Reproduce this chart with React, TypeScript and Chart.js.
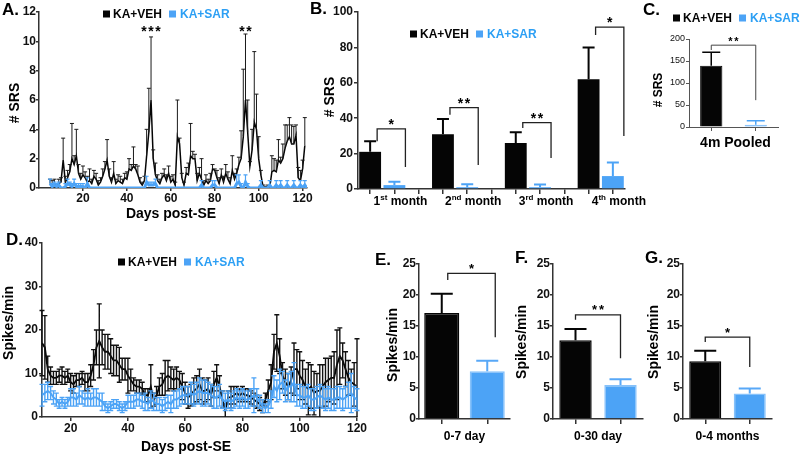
import React, { useEffect, useRef } from 'react';
import { Chart, registerables } from 'chart.js';

Chart.register(...registerables);

const FONT = "'Liberation Sans', Arial, Helvetica, sans-serif";
const BLACK = '#050505';
const BLUE = '#4ca3f6';
const BLUE_EDGE = '#86c1fa';
const BLUE_TEXT = '#2c9ff4';
const AXIS = '#333333';
const TICK_TEXT = '#111111';
const CW = 800;
const CH = 454;

const SERIES = ['KA+VEH', 'KA+SAR'];

// ---------------- Panel A: # SRS per day ----------------
const A_X_TICKS = [20, 40, 60, 80, 100, 120];
const A_Y_TICKS = [0, 2, 4, 6, 8, 10, 12];
const A_VEH_START = 5;
const A_VEH_MEAN = [
  0.3, 0.2, 0.3, 0.1, 0.3, 0.4, 1.9, 0.4, 0.7, 1.1,
  2.0, 1.6, 2.2, 1.0, 0.6, 0.9, 0.7, 0.4, 0.5, 0.3,
  0.8, 0.6, 0.2, 0.4, 0.8, 1.3, 1.9, 0.8, 0.4, 1.0,
  0.3, 0.5, 0.4, 0.3, 0.7, 0.6, 1.3, 1.2, 1.5, 1.3,
  0.9, 0.4, 0.2, 0.5, 2.2, 3.8, 6.0, 2.0, 0.9, 0.5,
  0.3, 0.7, 0.9, 0.5, 1.0, 0.4, 0.6, 0.2, 3.5, 3.0,
  0.7, 0.2, 1.0, 0.9, 2.2, 2.0, 2.0, 0.5, 1.0, 0.6,
  0.2, 0.5, 0.3, 0.5, 1.3, 1.2, 0.7, 0.3, 0.9, 0.4,
  1.0, 0.6, 0.3, 1.2, 0.6, 1.0, 1.6, 2.0, 3.5, 6.0,
  3.8, 1.5, 2.6, 4.5, 4.0, 2.0, 0.9, 0.1, 0.0, 0.1,
  0.0, 1.1, 1.2, 1.1, 1.9, 1.7, 2.0, 2.7, 3.2, 3.5,
  3.0, 3.0, 3.6, 0.7, 0.5, 1.3, 2.9,
];
const A_VEH_SEM = [
  0.3, 0.3, 0.3, 0.2, 0.3, 0.3, 1.5, 0.4, 0.5, 0.5,
  2.4, 0.6, 1.8, 0.6, 0.4, 0.6, 0.4, 0.4, 0.8, 0.3,
  0.4, 0.4, 0.3, 0.3, 0.5, 0.5, 1.4, 0.5, 0.3, 0.8,
  0.3, 0.4, 0.4, 0.3, 0.3, 0.5, 0.7, 0.4, 1.3, 0.3,
  0.6, 0.3, 0.2, 0.3, 1.8, 3.0, 4.3, 0.6, 0.8, 0.4,
  0.3, 0.3, 0.4, 0.4, 0.5, 0.4, 0.3, 0.2, 2.5, 0.4,
  0.3, 0.2, 0.4, 0.8, 2.2, 0.5, 0.3, 0.5, 0.4, 1.4,
  0.3, 0.4, 0.3, 0.5, 0.3, 0.1, 0.5, 0.4, 0.4, 0.4,
  0.6, 0.5, 0.4, 1.0, 0.4, 0.3, 0.5, 1.9, 4.6, 4.5,
  2.2, 0.3, 1.4, 4.8, 2.4, 1.5, 0.3, 0.1, 0.1, 0.1,
  0.1, 1.1, 0.8, 0.8, 1.4, 0.4, 1.0, 1.6, 1.1, 1.3,
  1.3, 1.2, 0.7, 0.7, 0.7, 0.6, 1.9,
];
const A_SAR_START = 5;
const A_SAR_MEAN = [
  0.3, 0.1, 0.2, 0.1, 0.2, 0, 0, 0.1, 0.3, 0.2,
  0.1, 0.3, 0.1, 0.1, 0.1, 0.1, 0, 0.3, 0, 0,
  0, 0, 0, 0, 0, 0, 0, 0, 0, 0,
  0, 0, 0, 0, 0, 0, 0, 0, 0, 0,
  0, 0, 0, 0, 0.4, 0.2, 0.2, 0.2, 0.3, 0,
  0, 0, 0, 0, 0, 0, 0, 0, 0, 0,
  0, 0, 0, 0, 0, 0, 0, 0, 0, 0.2,
  0, 0, 0, 0, 0.2, 0.2, 0, 0, 0, 0,
  0, 0, 0, 0, 0, 0.3, 0.4, 0.1, 0, 0.4,
  0.1, 0, 0, 0, 0, 0, 0.2, 0, 0, 0,
  0.2, 0, 0, 0.2, 0, 0.2, 0, 0, 0.2, 0,
  0, 0.2, 0, 0, 0.2, 0, 0.2, 0,
];
const A_SAR_SEM = [
  0.3, 0.2, 0.2, 0.2, 0.2, 0, 0, 0.2, 0.3, 0.2,
  0.2, 0.3, 0.2, 0.2, 0.2, 0.2, 0, 0.4, 0, 0,
  0, 0, 0, 0, 0, 0, 0, 0, 0, 0,
  0, 0, 0, 0, 0, 0, 0, 0, 0, 0,
  0, 0, 0, 0, 0.4, 0.2, 0.2, 0.2, 0.3, 0,
  0, 0, 0, 0, 0, 0, 0, 0, 0, 0,
  0, 0, 0, 0, 0, 0, 0, 0, 0, 0.3,
  0, 0, 0, 0, 0.3, 0.3, 0, 0, 0, 0,
  0, 0, 0, 0, 0, 0.6, 0.5, 0.2, 0, 0.5,
  0.2, 0, 0, 0, 0, 0, 0.3, 0, 0, 0,
  0.3, 0, 0, 0.3, 0, 0.3, 0, 0, 0.3, 0,
  0, 0.3, 0, 0, 0.3, 0, 0.3, 0,
];
const A_SIG = [
  { day: 51, stars: 3 },
  { day: 94, stars: 2 },
];
const A_SIG_LEVEL = 10.85;

// ---------------- Panel B: # SRS per month ----------------
const B_MONTHS = [
  ['1', 'st'],
  ['2', 'nd'],
  ['3', 'rd'],
  ['4', 'th'],
];
const B_MONTH_WORD = ' month';
const B_VEH = [21, 31, 26, 62];
const B_VEH_SEM = [6, 8.5, 6, 18];
const B_SAR = [2.2, 1, 1, 7.3];
const B_SAR_SEM = [1.9, 1.7, 1.5, 7.7];
const B_Y_TICKS = [0, 20, 40, 60, 80, 100];
const B_SIG = [
  { stars: 1, y: 34, left: 27, right: 12.5 },
  { stars: 2, y: 46, left: 42, right: 13.5 },
  { stars: 2, y: 37.5, left: 34.5, right: 17.5 },
  { stars: 1, y: 91.5, left: 87, right: 30 },
];

// ---------------- Panel C: pooled ----------------
const C_LABEL = '4m Pooled';
const C_VALUES = [139, 5];
const C_SEM = [31, 9];
const C_Y_TICKS = [0, 50, 100, 150, 200];
const C_SIG = { stars: 2, y: 186, left: 175, right: 61 };

// ---------------- Panel D: spikes/min per day ----------------
const D_X_TICKS = [20, 40, 60, 80, 100, 120];
const D_Y_TICKS = [0, 10, 20, 30, 40];
const D_START = 10;
const D_VEH_MEAN = [
  17, 16, 11, 9.5, 9, 9, 9.5, 9.5, 9, 9.5,
  8, 7.5, 8.5, 8.5, 9, 8, 8, 9.5, 12, 16,
  17.5, 16, 15, 15, 14, 13, 13, 12, 11, 11,
  9.5, 8.5, 7.5, 7, 7, 6.5, 5, 5, 7, 4,
  5, 7, 7.5, 9, 9.5, 9, 8.5, 9, 8.5, 7,
  5.5, 4.5, 5, 6, 6.5, 7.5, 6, 6, 6.5, 5,
  7.5, 9, 7, 4, 1.5, 4.5, 4.5, 5, 5.5, 5,
  5.5, 5, 5, 4.5, 4, 3.5, 3, 2.5, 4, 6,
  8, 15, 17, 14, 9.5, 8, 7, 8.5, 11, 11,
  9.5, 8.5, 7, 6.5, 7, 5.5, 6, 6, 7, 8,
  8.5, 9, 9, 12, 14, 13, 11, 9, 8, 7.5,
  7,
];
const D_VEH_SEM = [
  7.5, 7.3, 3, 2, 1.5, 1.5, 1.5, 2, 1.5, 1.5,
  2, 2, 1.5, 1.5, 1.5, 2, 2, 2.5, 3.5, 4,
  8.5, 4, 4, 4, 4, 3.5, 3.5, 4, 2.5, 2.5,
  4, 2.5, 1.5, 1.5, 1.5, 1.5, 1.5, 1.5, 5, 1.5,
  2, 2, 2.5, 4, 3.5, 2.5, 2.5, 2.5, 2, 3,
  2.5, 2.5, 2.5, 3, 3, 3.5, 3, 2.5, 2.5, 2.5,
  3, 3, 2.5, 2, 1.5, 1.5, 2.5, 2, 1.5, 1.5,
  1.5, 1.5, 1.5, 1.5, 1.5, 1.5, 1.5, 1.5, 1.5, 2.5,
  4, 4, 6.5, 4, 3, 3, 3, 3, 6, 4.5,
  5.5, 4.5, 4, 6, 5, 5, 4, 6, 5, 5.5,
  5, 5, 6, 8, 6.5, 4, 4, 4, 3, 5,
  11,
];
const D_SAR_MEAN = [
  5, 5.5, 6, 5.5, 4.5, 4, 3, 3.5, 3, 3.5,
  4.5, 4.5, 4, 5, 4.5, 4, 4.5, 4, 4.5, 4.5,
  4, 3.5, 2.5, 2, 2.5, 3, 3, 2.5, 2, 2.5,
  3.5, 3.5, 3.5, 4, 4, 3.5, 3.5, 3, 4, 3.5,
  3, 3, 2.5, 3, 3.5, 3, 4, 4, 4.5, 5,
  5, 5, 5.5, 5, 5.5, 6, 5.5, 5.5, 5.5, 5,
  4.5, 4.5, 5, 4, 3.5, 4, 3.5, 4, 4.5, 4,
  4.5, 4, 4, 4.5, 5, 4.5, 3.5, 2.5, 2, 2.5,
  4, 7, 6, 7.5, 8, 6, 7, 7, 8, 5,
  5, 4.5, 4.5, 5, 4, 4, 4.5, 5, 4.5, 4,
  4.5, 4, 4, 4.5, 4.5, 4, 4.5, 5, 5.5, 4.5,
  4,
];
const D_SAR_SEM = [
  2.5, 2, 2, 1.5, 1.5, 1.5, 1, 1, 1, 1,
  2, 2, 1.5, 2, 1.5, 1.5, 2, 1.5, 2, 2,
  1.5, 2, 1, 1, 1, 1, 1, 1, 1, 1,
  1.5, 1.5, 1.5, 1.5, 1.5, 1.5, 2, 1.5, 2, 2,
  1.5, 1.5, 1.5, 1.5, 1.5, 2, 2, 2, 2, 2,
  2, 2, 2.5, 2.5, 2.5, 3, 3, 3, 2.5, 2.5,
  2.5, 2.5, 2.5, 2, 2, 2, 2, 2, 2, 2,
  2, 2, 2, 2, 4, 2, 1.5, 1.5, 1, 1.5,
  2, 2.5, 2.5, 3.5, 2.5, 2.5, 3, 3.5, 4.5, 2.5,
  2.5, 2.5, 2.5, 2.5, 2.5, 2.5, 2.5, 2.5, 2.5, 2.5,
  2.5, 2.5, 2.5, 2.5, 2.5, 2.5, 2.5, 3, 4.5, 2.5,
  2.5,
];

// ---------------- Panels E, F, G: mean spikes/min ----------------
const EFG_Y_TICKS = [0, 5, 10, 15, 20, 25];
const E_LABEL = '0-7 day';
const E_VALUES = [17.1, 7.7];
const E_SEM = [3.1, 1.7];
const E_SIG = { stars: 1, y: 23.5, left: 22.4, right: 13.2 };
const F_LABEL = '0-30 day';
const F_VALUES = [12.7, 5.5];
const F_SEM = [1.8, 0.9];
const F_SIG = { stars: 2, y: 16.8, left: 16, right: 9.8 };
const G_LABEL = '0-4 months';
const G_VALUES = [9.3, 4.1];
const G_SEM = [1.7, 0.8];
const G_SIG = { stars: 1, y: 13.2, left: 12.4, right: 8.4 };

// ---------------- helpers ----------------
type Area = { l: number; t: number; r: number; b: number };

function padFor(a: Area, yW: number, xH: number) {
  return { left: a.l - yW, top: a.t, right: CW - a.r, bottom: CH - a.b - xH };
}

function fnt(size: number, bold = true) {
  return { family: FONT, size, weight: bold ? 'bold' : 'normal' } as any;
}

function linScale(
  pos: 'left' | 'bottom',
  min: number,
  max: number,
  ticks: number[],
  size: number,
  fit: number,
  tickLen: number,
  pad: number,
  o: { bold?: boolean; color?: string; lw?: number } = {}
) {
  const color = o.color ?? AXIS;
  const lw = o.lw ?? 1.5;
  return {
    type: 'linear',
    position: pos,
    min,
    max,
    afterBuildTicks: (s: any) => {
      s.ticks = ticks.map((v) => ({ value: v }));
    },
    afterFit: (s: any) => {
      if (pos === 'left') s.width = fit;
      else s.height = fit;
    },
    grid: { display: true, drawOnChartArea: false, drawTicks: true, tickLength: tickLen, color, lineWidth: lw },
    border: { display: true, color, width: lw },
    ticks: {
      font: fnt(size, o.bold ?? true),
      color: TICK_TEXT,
      padding: pad,
      autoSkip: false,
      maxRotation: 0,
      minRotation: 0,
    },
  };
}

function catScale(fit: number, tickLen: number, o: { color?: string; lw?: number } = {}) {
  const color = o.color ?? AXIS;
  const lw = o.lw ?? 1.5;
  return {
    type: 'category',
    position: 'bottom',
    offset: true,
    afterFit: (s: any) => {
      s.height = fit;
    },
    grid: { display: true, offset: false, drawOnChartArea: false, drawTicks: true, tickLength: tickLen, color, lineWidth: lw },
    border: { display: true, color, width: lw },
    ticks: { display: false },
  };
}

function baseOptions(a: Area, yW: number, xH: number, scales: any) {
  return {
    responsive: false,
    animation: false,
    devicePixelRatio: 1,
    events: [],
    layout: { padding: padFor(a, yW, xH), autoPadding: false },
    plugins: { legend: { display: false }, tooltip: { enabled: false }, title: { display: false } },
    scales,
  };
}

function txt(
  ctx: CanvasRenderingContext2D,
  s: string,
  x: number,
  y: number,
  size: number,
  o: { bold?: boolean; color?: string; align?: CanvasTextAlign; rot?: number } = {}
) {
  ctx.save();
  ctx.font = `${o.bold === false ? '' : 'bold '}${size}px ${FONT}`;
  ctx.fillStyle = o.color ?? '#000';
  ctx.textAlign = o.align ?? 'center';
  ctx.textBaseline = 'middle';
  ctx.translate(x, y);
  if (o.rot) ctx.rotate(o.rot);
  ctx.fillText(s, 0, 0);
  ctx.restore();
}

function stars(ctx: CanvasRenderingContext2D, cx: number, cy: number, n: number, pitch: number, size: number) {
  ctx.save();
  ctx.font = `bold ${size}px ${FONT}`;
  ctx.fillStyle = '#000';
  ctx.textAlign = 'center';
  ctx.textBaseline = 'alphabetic';
  const m = ctx.measureText('*');
  const off = (m.actualBoundingBoxAscent - m.actualBoundingBoxDescent) / 2;
  for (let i = 0; i < n; i++) {
    const x = cx + (i - (n - 1) / 2) * pitch;
    ctx.fillText('*', x, cy + off);
  }
  ctx.restore();
}

function bracket(ctx: CanvasRenderingContext2D, x1: number, x2: number, y: number, y1: number, y2: number, color: string, lw: number) {
  ctx.save();
  ctx.strokeStyle = color;
  ctx.lineWidth = lw;
  ctx.beginPath();
  ctx.moveTo(x1, y1);
  ctx.lineTo(x1, y);
  ctx.lineTo(x2, y);
  ctx.lineTo(x2, y2);
  ctx.stroke();
  ctx.restore();
}

function legend(ctx: CanvasRenderingContext2D, x: number, y: number, size: number) {
  ctx.save();
  ctx.font = `bold ${size}px ${FONT}`;
  ctx.textBaseline = 'middle';
  ctx.textAlign = 'left';
  const sq = 7;
  ctx.fillStyle = BLACK;
  ctx.fillRect(x, y - sq / 2, sq, sq);
  ctx.fillText(SERIES[0], x + sq + 3, y + 1);
  const w1 = ctx.measureText(SERIES[0]).width;
  const x2 = x + sq + 3 + w1 + 7;
  ctx.fillStyle = BLUE;
  ctx.fillRect(x2, y - sq / 2, sq, sq);
  ctx.fillStyle = BLUE_TEXT;
  ctx.fillText(SERIES[1], x2 + sq + 4, y + 1);
  ctx.restore();
}

function monthLabel(ctx: CanvasRenderingContext2D, num: string, sup: string, cx: number, cy: number) {
  ctx.save();
  ctx.fillStyle = '#000';
  ctx.textBaseline = 'alphabetic';
  ctx.textAlign = 'left';
  const big = `bold 12px ${FONT}`;
  const small = `bold 8px ${FONT}`;
  ctx.font = big;
  const w1 = ctx.measureText(num).width;
  const w3 = ctx.measureText(B_MONTH_WORD).width;
  ctx.font = small;
  const w2 = ctx.measureText(sup).width;
  let x = cx - (w1 + w2 + w3) / 2;
  const base = cy + 4.5;
  ctx.font = big;
  ctx.fillText(num, x, base);
  x += w1;
  ctx.font = small;
  ctx.fillText(sup, x, base - 4.5);
  x += w2;
  ctx.font = big;
  ctx.fillText(B_MONTH_WORD, x, base);
  ctx.restore();
}

function annot(id: string, fn: (ctx: CanvasRenderingContext2D, chart: any) => void) {
  return {
    id,
    afterDraw(chart: any) {
      const ctx = chart.ctx as CanvasRenderingContext2D;
      ctx.save();
      fn(ctx, chart);
      ctx.restore();
    },
  };
}

type ErrSpec = { index: number; errs: number[]; color: string; lw: number; cap: number; both: boolean };

function lineErr(specs: ErrSpec[]) {
  return {
    id: 'lineErr',
    afterDatasetDraw(chart: any, args: any) {
      const spec = specs.find((s) => s.index === args.index);
      if (!spec) return;
      const meta = chart.getDatasetMeta(args.index);
      const ys = chart.scales.y;
      const ctx = chart.ctx as CanvasRenderingContext2D;
      const ds = chart.data.datasets[args.index].data as { x: number; y: number }[];
      ctx.save();
      ctx.strokeStyle = spec.color;
      ctx.lineWidth = spec.lw;
      ctx.beginPath();
      ds.forEach((p, i) => {
        const e = spec.errs[i];
        if (!e) return;
        const el = meta.data[i];
        const x = el.x;
        const yt = ys.getPixelForValue(p.y + e);
        const yb = spec.both ? ys.getPixelForValue(Math.max(0, p.y - e)) : el.y;
        ctx.moveTo(x, yb);
        ctx.lineTo(x, yt);
        ctx.moveTo(x - spec.cap / 2, yt);
        ctx.lineTo(x + spec.cap / 2, yt);
        if (spec.both && p.y - e > 0) {
          ctx.moveTo(x - spec.cap / 2, yb);
          ctx.lineTo(x + spec.cap / 2, yb);
        }
      });
      ctx.stroke();
      ctx.restore();
    },
  };
}

function barErr(errs: (number | null)[], colors: string[], cap: number, lw: number) {
  return {
    id: 'barErr',
    afterDatasetsDraw(chart: any) {
      const meta = chart.getDatasetMeta(0);
      const ys = chart.scales.y;
      const ctx = chart.ctx as CanvasRenderingContext2D;
      const data = chart.data.datasets[0].data as (number | null)[];
      ctx.save();
      ctx.lineWidth = lw;
      meta.data.forEach((bar: any, i: number) => {
        const v = data[i];
        const e = errs[i];
        if (v == null || !e) return;
        const x = bar.x;
        const y0 = ys.getPixelForValue(v);
        const y1 = ys.getPixelForValue(v + e);
        ctx.strokeStyle = colors[i];
        ctx.beginPath();
        ctx.moveTo(x, y0);
        ctx.lineTo(x, y1);
        ctx.moveTo(x - cap / 2, y1);
        ctx.lineTo(x + cap / 2, y1);
        ctx.stroke();
      });
      ctx.restore();
    },
  };
}

// ---------------- chart configs ----------------
function configA(): any {
  const veh = A_VEH_MEAN.map((y, i) => ({ x: A_VEH_START + i, y }));
  const sar = A_SAR_MEAN.map((y, i) => ({ x: A_SAR_START + i, y }));
  const area = { l: 39, t: 12, r: 307, b: 188 };
  return {
    type: 'line',
    data: {
      datasets: [
        { label: SERIES[1], data: sar, borderColor: BLUE, borderWidth: 3, pointRadius: 0, tension: 0 },
        { label: SERIES[0], data: veh, borderColor: BLACK, borderWidth: 1.5, pointRadius: 0, tension: 0 },
      ],
    },
    options: baseOptions(area, 36, 22, {
      x: linScale('bottom', 0, 122, A_X_TICKS, 12, 22, 3, 0),
      y: linScale('left', 0, 12, A_Y_TICKS, 12, 36, 3, 0),
    }),
    plugins: [
      lineErr([
        { index: 1, errs: A_VEH_SEM, color: '#1a1a1a', lw: 1, cap: 4, both: false },
        { index: 0, errs: A_SAR_SEM, color: BLUE, lw: 1.2, cap: 4, both: false },
      ]),
      annot('annotA', (ctx, ch) => {
        txt(ctx, 'A.', 2, 10, 17, { align: 'left' });
        legend(ctx, 103, 14, 12);
        txt(ctx, '# SRS', 15, 103, 14, { rot: -Math.PI / 2 });
        txt(ctx, 'Days post-SE', 171, 214, 14);
        A_SIG.forEach((s) => {
          stars(ctx, ch.scales.x.getPixelForValue(s.day), ch.scales.y.getPixelForValue(A_SIG_LEVEL), s.stars, 7, 14);
        });
      }),
    ],
  };
}

function configB(): any {
  const vals: (number | null)[] = [];
  const errs: (number | null)[] = [];
  const cols: string[] = [];
  B_VEH.forEach((v, i) => {
    vals.push(v, B_SAR[i]);
    errs.push(B_VEH_SEM[i], B_SAR_SEM[i]);
    cols.push(BLACK, BLUE);
    if (i < B_VEH.length - 1) {
      vals.push(null);
      errs.push(null);
      cols.push(BLACK);
    }
  });
  const labels = vals.map((_, i) => `c${i}`);
  const area = { l: 358, t: 12, r: 625, b: 189 };
  return {
    type: 'bar',
    data: {
      labels,
      datasets: [{ data: vals, backgroundColor: cols, borderWidth: 0, barPercentage: 0.9, categoryPercentage: 1 }],
    },
    options: baseOptions(area, 40, 20, {
      x: catScale(20, 5),
      y: linScale('left', 0, 100, B_Y_TICKS, 12, 40, 4, 1),
    }),
    plugins: [
      barErr(errs, cols, 12, 2),
      annot('annotB', (ctx, ch) => {
        txt(ctx, 'B.', 310, 9, 17, { align: 'left' });
        legend(ctx, 410, 34, 12);
        txt(ctx, '# SRS', 330, 97, 14, { rot: -Math.PI / 2 });
        const xs = ch.scales.x;
        const ys = ch.scales.y;
        B_MONTHS.forEach((m, i) => {
          const sarX = xs.getPixelForValue(i * 3 + 1);
          monthLabel(ctx, m[0], m[1], sarX + 6, 200);
        });
        B_SIG.forEach((s, i) => {
          const x1 = xs.getPixelForValue(i * 3) + 7;
          const x2 = xs.getPixelForValue(i * 3 + 1) + 11;
          const y = ys.getPixelForValue(s.y);
          bracket(ctx, x1, x2, y, ys.getPixelForValue(s.left), ys.getPixelForValue(s.right), '#222', 1.3);
          stars(ctx, (x1 + x2) / 2, y - 7, s.stars, 7, 14);
        });
      }),
    ],
  };
}

function configC(): any {
  const area = { l: 689, t: 39, r: 778, b: 127 };
  const cols = [BLACK, BLUE];
  return {
    type: 'bar',
    data: {
      labels: SERIES,
      datasets: [
        {
          data: C_VALUES,
          backgroundColor: cols,
          borderColor: [BLACK, BLUE_EDGE],
          borderWidth: 1,
          barPercentage: 0.5,
          categoryPercentage: 1,
        },
      ],
    },
    options: baseOptions(area, 26, 14, {
      x: catScale(14, 4, { color: '#555', lw: 1 }),
      y: linScale('left', 0, 200, C_Y_TICKS, 9, 26, 3, 1, { bold: false, color: '#555', lw: 1 }),
    }),
    plugins: [
      barErr(C_SEM, [BLACK, BLUE], 18, 1.5),
      annot('annotC', (ctx, ch) => {
        txt(ctx, 'C.', 643, 10, 17, { align: 'left' });
        legend(ctx, 673, 18, 12);
        txt(ctx, '# SRS', 659, 90, 12, { rot: -Math.PI / 2 });
        const xs = ch.scales.x;
        const ys = ch.scales.y;
        const x1 = xs.getPixelForValue(0);
        const x2 = xs.getPixelForValue(1);
        txt(ctx, C_LABEL, (x1 + x2) / 2 + 2, 143, 14);
        const y = ys.getPixelForValue(C_SIG.y);
        bracket(ctx, x1, x2, y, ys.getPixelForValue(C_SIG.left), ys.getPixelForValue(C_SIG.right), '#444', 1);
        stars(ctx, (x1 + x2) / 2, y - 6, C_SIG.stars, 6, 11);
      }),
    ],
  };
}

function configD(): any {
  const veh = D_VEH_MEAN.map((y, i) => ({ x: D_START + i, y }));
  const sar = D_SAR_MEAN.map((y, i) => ({ x: D_START + i, y }));
  const area = { l: 42, t: 243, r: 357, b: 417 };
  return {
    type: 'line',
    data: {
      datasets: [
        { label: SERIES[1], data: sar, borderColor: BLUE, borderWidth: 2, pointRadius: 0, tension: 0 },
        { label: SERIES[0], data: veh, borderColor: BLACK, borderWidth: 1.8, pointRadius: 0, tension: 0 },
      ],
    },
    options: baseOptions(area, 38, 22, {
      x: linScale('bottom', 10, 120, D_X_TICKS, 12, 22, 4, 0),
      y: linScale('left', 0, 40, D_Y_TICKS, 12, 38, 3, 1),
    }),
    plugins: [
      lineErr([
        { index: 1, errs: D_VEH_SEM, color: '#111', lw: 1.4, cap: 5, both: true },
        { index: 0, errs: D_SAR_SEM, color: BLUE, lw: 1.4, cap: 5, both: true },
      ]),
      annot('annotD', (ctx) => {
        txt(ctx, 'D.', 6, 240, 17, { align: 'left' });
        legend(ctx, 118, 262, 12);
        txt(ctx, 'Spikes/min', 9, 323, 14, { rot: -Math.PI / 2 });
        txt(ctx, 'Days post-SE', 186, 447, 14);
      }),
    ],
  };
}

function configSmall(p: {
  area: Area;
  values: number[];
  sem: number[];
  label: string;
  sig: { stars: number; y: number; left: number; right: number };
  letter: string;
  letterPos: [number, number];
  titlePos: [number, number];
  barPct: number;
  dx: [number, number];
}): any {
  const cols = [BLACK, BLUE];
  return {
    type: 'bar',
    data: {
      labels: SERIES,
      datasets: [
        {
          data: p.values,
          backgroundColor: cols,
          borderColor: [BLACK, BLUE_EDGE],
          borderWidth: 1.5,
          barPercentage: p.barPct,
          categoryPercentage: 1,
        },
      ],
    },
    options: baseOptions(p.area, 26, 14, {
      x: catScale(14, 5),
      y: linScale('left', 0, 25, EFG_Y_TICKS, 12, 26, 3, 0),
    }),
    plugins: [
      barErr(p.sem, [BLACK, '#58a8f7'], 22, 2),
      annot('annot' + p.letter, (ctx, ch) => {
        txt(ctx, p.letter + '.', p.letterPos[0], p.letterPos[1], 17, { align: 'left' });
        txt(ctx, 'Spikes/min', p.titlePos[0], p.titlePos[1], 14, { rot: -Math.PI / 2 });
        const xs = ch.scales.x;
        const ys = ch.scales.y;
        const t1 = xs.getPixelForValue(0);
        const t2 = xs.getPixelForValue(1);
        txt(ctx, p.label, (t1 + t2) / 2, 437, 12);
        const x1 = t1 + p.dx[0];
        const x2 = t2 + p.dx[1];
        const y = ys.getPixelForValue(p.sig.y);
        bracket(ctx, x1, x2, y, ys.getPixelForValue(p.sig.left), ys.getPixelForValue(p.sig.right), '#222', 1.3);
        stars(ctx, (x1 + x2) / 2, y - 7, p.sig.stars, 7, 13);
      }),
    ],
  };
}

export default function App() {
  const refs = useRef<(HTMLCanvasElement | null)[]>([]);
  useEffect(() => {
    const cfgs = [
      configA(),
      configB(),
      configC(),
      configD(),
      configSmall({
        area: { l: 419, t: 264, r: 510, b: 419 },
        values: E_VALUES,
        sem: E_SEM,
        label: E_LABEL,
        sig: E_SIG,
        letter: 'E',
        letterPos: [375, 260],
        titlePos: [393, 345],
        barPct: 0.77,
        dx: [6, 8],
      }),
      configSmall({
        area: { l: 553, t: 264, r: 643, b: 419 },
        values: F_VALUES,
        sem: F_SEM,
        label: F_LABEL,
        sig: F_SIG,
        letter: 'F',
        letterPos: [515, 258],
        titlePos: [522, 342],
        barPct: 0.72,
        dx: [0, 0],
      }),
      configSmall({
        area: { l: 683, t: 264, r: 772, b: 419 },
        values: G_VALUES,
        sem: G_SEM,
        label: G_LABEL,
        sig: G_SIG,
        letter: 'G',
        letterPos: [645, 258],
        titlePos: [654, 342],
        barPct: 0.72,
        dx: [0, 0],
      }),
    ];
    const charts = cfgs.map((c, i) => new Chart(refs.current[i] as HTMLCanvasElement, c));
    return () => charts.forEach((c) => c.destroy());
  }, []);
  return (
    <div
      style={{
        position: 'fixed',
        left: 0,
        top: 0,
        width: CW,
        height: CH,
        background: '#ffffff',
        overflow: 'hidden',
      }}
    >
      {[0, 1, 2, 3, 4, 5, 6].map((i) => (
        <canvas
          key={i}
          ref={(el) => {
            refs.current[i] = el;
          }}
          width={CW}
          height={CH}
          style={{ position: 'absolute', left: 0, top: 0, width: CW, height: CH }}
        />
      ))}
    </div>
  );
}
